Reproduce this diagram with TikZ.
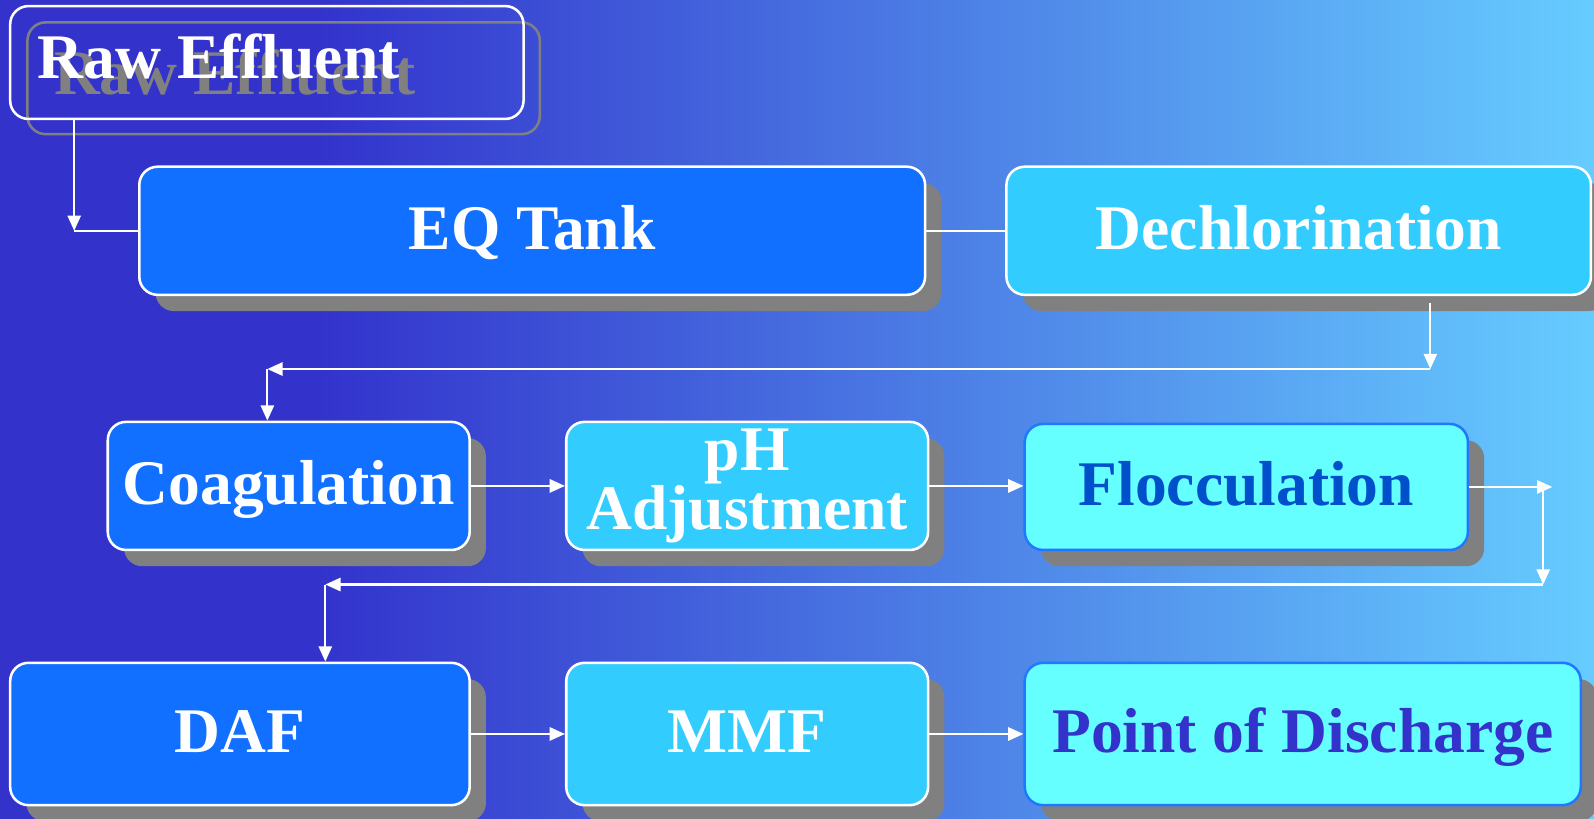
\documentclass[tikz,border=0pt]{standalone}
\usepackage{fontspec}
\setmainfont{Liberation Serif}
\usetikzlibrary{arrows.meta,shadows}
\definecolor{bgL}{HTML}{3333CC}
\definecolor{bgR}{HTML}{66CCFF}
\definecolor{boxDark}{HTML}{1170FF}
\definecolor{boxMid}{HTML}{33CCFF}
\definecolor{boxLight}{HTML}{66FFFF}
\definecolor{boxBorder}{HTML}{2277FF}
\definecolor{flocText}{HTML}{0050CC}
\definecolor{podText}{HTML}{3333CC}
\definecolor{shadowgray}{HTML}{808080}
\pgfdeclarehorizontalshading{bgshade}{100bp}{color(0bp)=(bgL); color(35bp)=(bgL); color(75bp)=(bgR); color(100bp)=(bgR)}
\tikzset{
  bigfont/.style={font=\fontsize{62.5}{64}\selectfont\bfseries},
  box/.style={rectangle, rounded corners=18pt, line width=2.5pt, draw=white,
    bigfont, text=white, inner sep=0pt,
    drop shadow={shadow xshift=16pt, shadow yshift=-16pt, fill=shadowgray, opacity=1}},
  dark/.style={box, fill=boxDark},
  mid/.style={box, fill=boxMid},
  light/.style={box, fill=boxLight, draw=boxBorder},
  onetext/.style={text height=43pt, text depth=7pt},
  ln/.style={draw=white, line width=2.2pt},
  arr/.style={ln, -{Triangle[length=15pt,width=13pt]}},
  outline/.style={rectangle, rounded corners=18pt, line width=2.5pt, inner sep=0pt},
}
\begin{document}
\begin{tikzpicture}[x=1pt,y=-1pt]
\useasboundingbox (0,0) rectangle (1568,805);
\shade[shading=bgshade] (0,0) rectangle (1568,805);

% Raw Effluent (ghost copy behind)
\node[outline, draw=shadowgray, minimum width=504pt, minimum height=110pt] (rawg) at (279,77) {};
\node[bigfont, text=shadowgray, anchor=base west, inner sep=0pt] (rawgt) at (53,93) {Raw Effluent};
\node[outline, draw=white, minimum width=505pt, minimum height=111pt] (raw) at (262.5,61.5) {};
\node[bigfont, text=white, anchor=base west, inner sep=0pt] (rawt) at (37,77) {Raw Effluent};

% Row 1
\node[dark, onetext, minimum width=773pt, minimum height=126pt] (eq) at (523.5,227) {EQ Tank};
\node[mid, onetext, minimum width=575pt, minimum height=126pt] (dechl) at (1277.5,227) {Dechlorination};

% Row 2
\node[dark, onetext, minimum width=356pt, minimum height=126pt] (coag) at (284,478) {Coagulation};
\node[mid, align=center, font=\fontsize{62.5}{56}\selectfont\bfseries, minimum width=356pt, minimum height=126pt] (ph) at (735,478) {pH\\Adjustment};
\node[light, onetext, text=flocText, minimum width=436pt, minimum height=124pt] (floc) at (1226,479) {Flocculation};

% Row 3
\node[dark, onetext, minimum width=452pt, minimum height=140pt] (daf) at (236,722) {DAF};
\node[mid, onetext, minimum width=356pt, minimum height=140pt] (mmf) at (735,722) {MMF};
\node[light, onetext, text=podText, minimum width=547pt, minimum height=140pt] (pod) at (1281.5,722) {Point of Discharge};

% Connectors
\coordinate (c1) at (73,227);
\draw[arr] (raw.south -| c1) -- (c1);
\draw[ln] (c1) -- (eq.west);
\draw[ln] (eq.east) -- (dechl.west);

\coordinate (c2) at (1407,363);
\coordinate (c3) at (263,363);
\draw[arr, shorten <=7pt] (dechl.south -| c2) -- (c2);
\draw[arr] (c2) -- (c3);
\draw[arr] (c3) -- (coag.north -| c3);

\draw[arr] (coag.east) -- (ph.west);
\draw[arr] (ph.east) -- (ph.east -| floc.west);

\coordinate (c4) at (1527,479);
\coordinate (c5) at (1518,575);
\coordinate (c6) at (320,575);
\draw[arr] (floc.east) -- (c4);
\draw[arr] (c5 |- floc.east) -- (c5);
\draw[arr] (c5) -- (c6);
\draw[arr] (c6) -- (daf.north -| c6);

\draw[arr] (daf.east) -- (mmf.west);
\draw[arr] (mmf.east) -- (pod.west);
\end{tikzpicture}
\end{document}
